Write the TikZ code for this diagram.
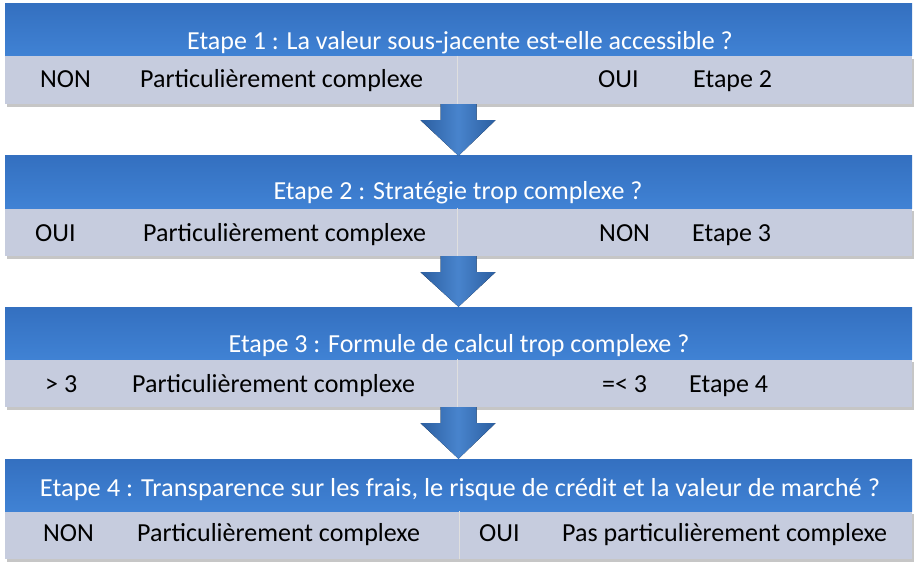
\documentclass[tikz,border=0pt]{standalone}
\usepackage{fontspec}
\setmainfont{Carlito}
\usepackage{graphicx}
\usepackage{xcolor}
\usepackage{tikz}
\usetikzlibrary{positioning, calc, shadows}
\definecolor{hdblue}{RGB}{64,130,212}
\definecolor{hdtop}{RGB}{52,112,192}
\definecolor{rowgray}{RGB}{198,204,222}
\definecolor{arrowmid}{RGB}{72,132,205}
\definecolor{arrowdark}{RGB}{44,94,160}

\begin{document}
\begin{tikzpicture}[
    x=1pt, y=-1pt,
    header/.style={top color=hdtop, bottom color=hdblue, minimum width=907, minimum height=52, inner sep=0pt},
    row/.style={fill=rowgray, minimum width=907, minimum height=48, inner sep=0pt, drop shadow={shadow xshift=2pt, shadow yshift=-3pt, opacity=0.45}},
    title/.style={text=white, font=\fontsize{26}{30}\selectfont, inner sep=0pt, anchor=base},
    lbl/.style={font=\fontsize{26}{30}\selectfont, anchor=base west, inner sep=0pt},
    divider/.style={draw=white!75!gray, line width=1pt},
    bigarrow/.style={left color=arrowdark, right color=arrowdark, middle color=arrowmid}
]
    \useasboundingbox (0,0) rectangle (924,575);

    % Step 1
    \node[row] (row1) at (458.5,80) {};
    \node[header] (hd1) at (458.5,30) {};
    \node[title] (t1) at (460,50) {Etape 1 : La valeur sous-jacente est-elle accessible ?};
    \draw[divider] (row1.north -| 457,0) -- (row1.south -| 457,0);
    \node[lbl] (a1) at (40,88) {NON};
    \node[lbl] (b1) at (140,88) {Particulièrement complexe};
    \node[lbl] (c1) at (598,88) {OUI};
    \node[lbl] (d1) at (693,88) {Etape 2};

    % Step 2
    \node[row] (row2) at (458.5,232) {};
    \node[header] (hd2) at (458.5,182) {};
    \node[title] (t2) at (458,200) {Etape 2 : Stratégie trop complexe ?};
    \draw[divider] (row2.north -| 457,0) -- (row2.south -| 457,0);
    \node[lbl] (a2) at (35,241) {OUI};
    \node[lbl] (b2) at (143,241) {Particulièrement complexe};
    \node[lbl] (c2) at (599,241) {NON};
    \node[lbl] (d2) at (692,241) {Etape 3};

    % Step 3
    \node[row] (row3) at (458.5,383) {};
    \node[header] (hd3) at (458.5,333) {};
    \node[title] (t3) at (459,352) {Etape 3 : Formule de calcul trop complexe ?};
    \draw[divider] (row3.north -| 457,0) -- (row3.south -| 457,0);
    \node[lbl] (a3) at (45,392) {> 3};
    \node[lbl] (b3) at (132,392) {Particulièrement complexe};
    \node[lbl] (c3) at (602,392) {=< 3};
    \node[lbl] (d3) at (689,392) {Etape 4};

    % Step 4
    \node[row] (row4) at (458.5,535) {};
    \node[header] (hd4) at (458.5,485) {};
    \node[title] (t4) at (460,496) {\resizebox{840pt}{\height}{Etape 4 : Transparence sur les frais, le risque de crédit et la valeur de marché ?}};
    \draw[divider] (row4.north -| 459,0) -- (row4.south -| 459,0);
    \node[lbl] (a4) at (43,541) {NON};
    \node[lbl] (b4) at (137,541) {Particulièrement complexe};
    \node[lbl] (c4) at (479,541) {OUI};
    \node[lbl] (d4) at (562,541) {Pas particulièrement complexe};

    % Arrows
    \fill[bigarrow] ($(row1.south)+(-18,0)$) -- ($(row1.south)+(18,0)$) -- ($(row1.south)+(18,16)$) -- ($(row1.south)+(37,16)$)
        -- (hd2.north) -- ($(row1.south)+(-38,16)$) -- ($(row1.south)+(-18,16)$) -- cycle;
    \fill[bigarrow] ($(row2.south)+(-18,0)$) -- ($(row2.south)+(18,0)$) -- ($(row2.south)+(18,16)$) -- ($(row2.south)+(37,16)$)
        -- (hd3.north) -- ($(row2.south)+(-38,16)$) -- ($(row2.south)+(-18,16)$) -- cycle;
    \fill[bigarrow] ($(row3.south)+(-18,0)$) -- ($(row3.south)+(18,0)$) -- ($(row3.south)+(18,16)$) -- ($(row3.south)+(37,16)$)
        -- (hd4.north) -- ($(row3.south)+(-38,16)$) -- ($(row3.south)+(-18,16)$) -- cycle;
\end{tikzpicture}
\end{document}
